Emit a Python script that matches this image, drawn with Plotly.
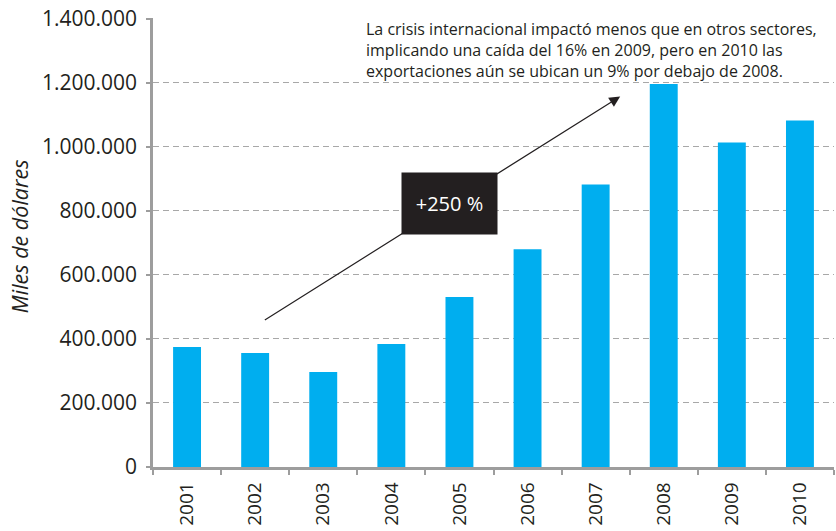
import plotly.graph_objects as go

years = ["2001", "2002", "2003", "2004", "2005", "2006", "2007", "2008", "2009", "2010"]
exports = [375000, 356000, 297000, 384000, 531000, 680000, 882000, 1196000, 1013000, 1082000]
y_ticks = [0, 200000, 400000, 600000, 800000, 1000000, 1200000, 1400000]

note_text = ("La crisis internacional impactó menos que en otros sectores,<br>"
             "implicando una caída del 16% en 2009, pero en 2010 las<br>"
             "exportaciones aún se ubican un 9% por debajo de 2008.")
growth_label = "+250 %"
y_title = "Miles de dólares"

FONT = "Open Sans"
W, H = 836, 531
L, R, T, B = 153, 2, 18, 63.5
PW = W - L - R
PH = H - T - B


def px_x(p):  # page x -> paper
    return (p - L) / PW


def px_y(p):  # page y -> paper
    return (H - B - p) / PH


fig = go.Figure()
fig.add_trace(go.Bar(x=years, y=exports, marker=dict(color="#00AEEF", line=dict(width=0)),
                     hoverinfo="skip"))

fig.update_layout(
    width=W, height=H,
    margin=dict(l=L, r=R, t=T, b=B, autoexpand=False),
    plot_bgcolor="white", paper_bgcolor="white",
    separators=",.",
    bargap=0.59,
    showlegend=False,
    font=dict(family=FONT, color="#231f20"),
)
fig.update_xaxes(
    type="category", automargin=False,
    showline=True, linecolor="#9d9d9d", linewidth=2.5,
    ticks="outside", tickson="boundaries", ticklen=5, tickcolor="#9d9d9d", tickwidth=1.5,
    tickangle=-90, ticklabelstandoff=5,
    tickfont=dict(size=19, family=FONT, color="#231f20"),
    showgrid=False,
)
fig.update_yaxes(
    range=[0, 1402000], automargin=False,
    tickvals=y_ticks, tickformat=",d",
    showline=True, linecolor="#9d9d9d", linewidth=2.5,
    ticks="outside", ticklen=4, tickcolor="#9d9d9d", tickwidth=1.5,
    ticklabelstandoff=5, ticklabeloverflow="allow",
    tickfont=dict(size=21, family=FONT, color="#231f20"),
    showgrid=True, gridcolor="#a8a8a8", gridwidth=1.3, griddash="6px,4px",
    zeroline=False,
)

# Arrow (trend)
fig.add_annotation(
    x=6.36, y=1157000, ax=1.12, ay=456000,
    xref="x", yref="y", axref="x", ayref="y",
    text="", showarrow=True, arrowhead=2, arrowsize=1.8, arrowwidth=1.2,
    arrowcolor="#231f20", standoff=0,
)
# +250 % box
fig.add_annotation(
    x=3.86, y=824000, xref="x", yref="y",
    text=growth_label, showarrow=False,
    font=dict(size=20, color="white", family=FONT),
    bgcolor="#231f20", width=93, height=59, borderpad=1,
)
# Note text
fig.add_annotation(
    x=px_x(365), y=px_y(17), xref="paper", yref="paper",
    xanchor="left", yanchor="top", align="left",
    text=note_text, showarrow=False, borderpad=0,
    font=dict(size=16, color="#231f20", family=FONT),
)
# Y axis title
fig.add_annotation(
    x=px_x(19), y=px_y(236.5), xref="paper", yref="paper",
    xanchor="center", yanchor="middle",
    text="<i>" + y_title + "</i>", textangle=-90, showarrow=False,
    font=dict(size=21.5, color="#231f20", family=FONT),
)

# the page body has a default 8px margin; remove it so the figure fills the window
fig.write_html("out.html", config={"displayModeBar": False},
               post_script="document.body.style.margin='0';")
